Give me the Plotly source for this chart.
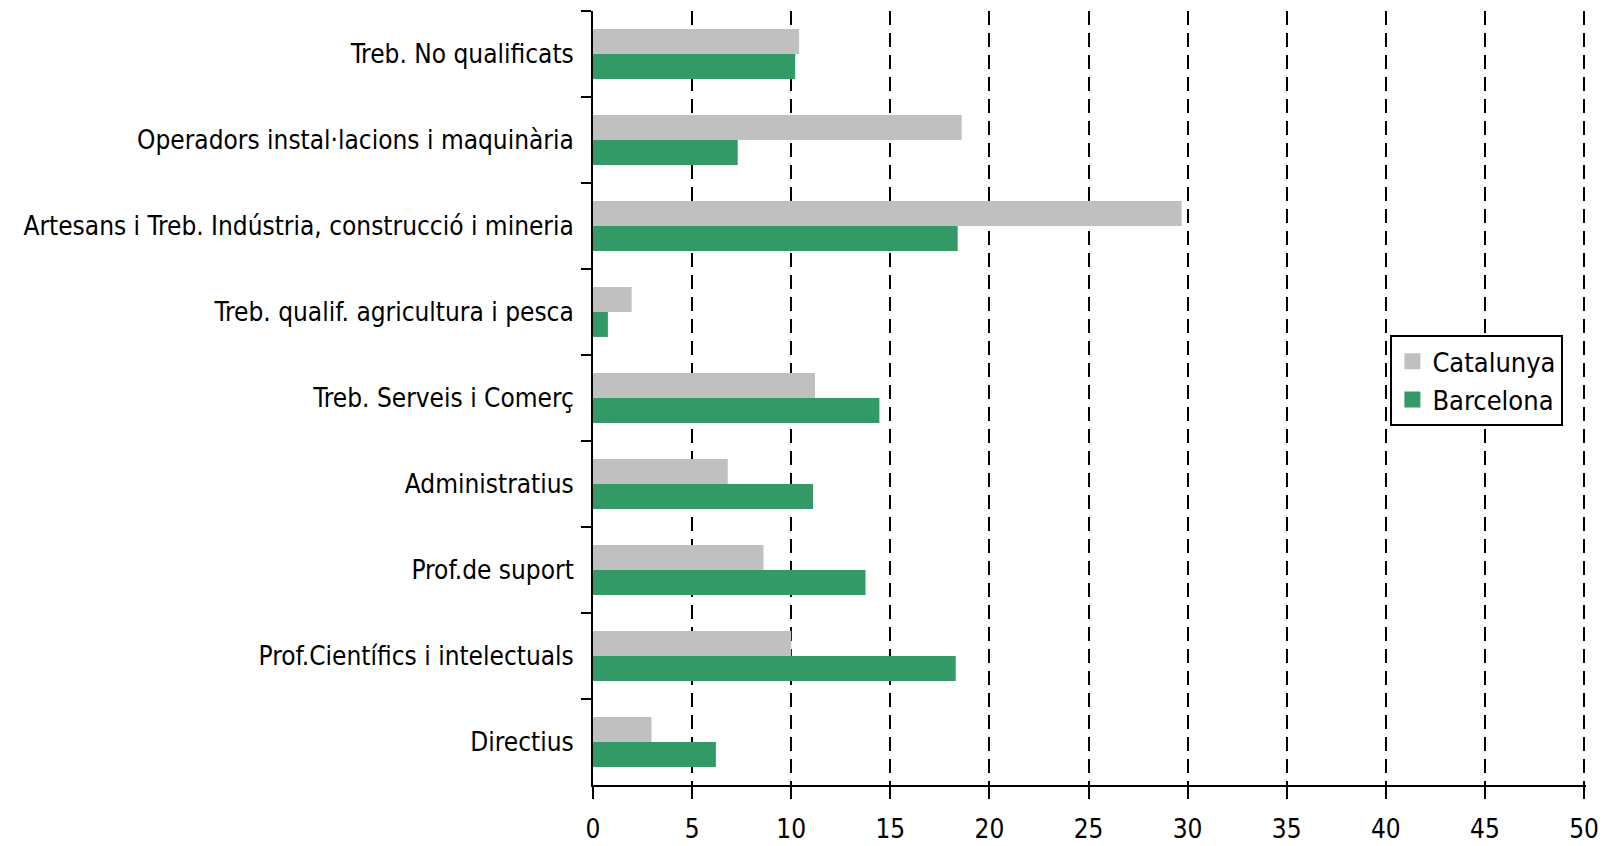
import plotly.graph_objects as go

categories = [
    "Treb. No qualificats",
    "Operadors instal·lacions i maquinària",
    "Artesans i Treb. Indústria, construcció i mineria",
    "Treb. qualif. agricultura i pesca",
    "Treb. Serveis i Comerç",
    "Administratius",
    "Prof.de suport",
    "Prof.Científics i intelectuals",
    "Directius",
]
catalunya = [10.4, 18.6, 29.7, 1.95, 11.2, 6.8, 8.6, 10.0, 2.95]
barcelona = [10.2, 7.3, 18.4, 0.75, 14.45, 11.1, 13.75, 18.3, 6.2]
x_ticks = [0, 5, 10, 15, 20, 25, 30, 35, 40, 45, 50]

GREY = "#c0c0c0"
GREEN = "#339966"
FONT = "DejaVu Sans Condensed, Liberation Sans Narrow, sans-serif"

fig = go.Figure()
fig.add_trace(go.Bar(y=categories, x=catalunya, name="Catalunya", orientation="h",
                     marker=dict(color=GREY, line_width=0), showlegend=False))
fig.add_trace(go.Bar(y=categories, x=barcelona, name="Barcelona", orientation="h",
                     marker=dict(color=GREEN, line_width=0), showlegend=False))
# legend entries with bigger square swatches
for name, col in [("Catalunya", GREY), ("Barcelona", GREEN)]:
    fig.add_trace(go.Scatter(x=[None], y=[None], mode="markers", name=name,
                             marker=dict(symbol="square", size=20, color=col)))

fig.update_layout(
    width=1604, height=846,
    margin=dict(l=593, r=18, t=11, b=61),
    paper_bgcolor="white", plot_bgcolor="white",
    barmode="group", bargap=0.42, bargroupgap=0,
    font=dict(family=FONT, size=26, color="black"),
    showlegend=True,
    legend=dict(x=0.803, y=0.581, xanchor="left", yanchor="top",
                bordercolor="black", borderwidth=2, bgcolor="white",
                font=dict(size=27), itemsizing="trace", itemwidth=30,
                tracegroupgap=0),
    xaxis=dict(range=[0, 50.1], tickvals=x_ticks, showgrid=True, gridcolor="black",
               gridwidth=2, griddash="14px,8px", zeroline=False, automargin=False,
               showline=True, linecolor="black", linewidth=2,
               ticks="outside", ticklen=12, tickwidth=2, tickcolor="black",
               ticklabelstandoff=8),
    yaxis=dict(autorange="reversed", showgrid=False, showline=True, automargin=False,
               linecolor="black", linewidth=2, ticks="outside", ticklen=10,
               tickwidth=2, tickcolor="black", tickson="boundaries",
               ticklabelstandoff=12),
)

# drop the default body margin so the figure fills the window exactly
fig.write_html("out.html", config={"displayModeBar": False},
               post_script="document.body.style.margin='0';document.body.style.overflow='hidden';")
